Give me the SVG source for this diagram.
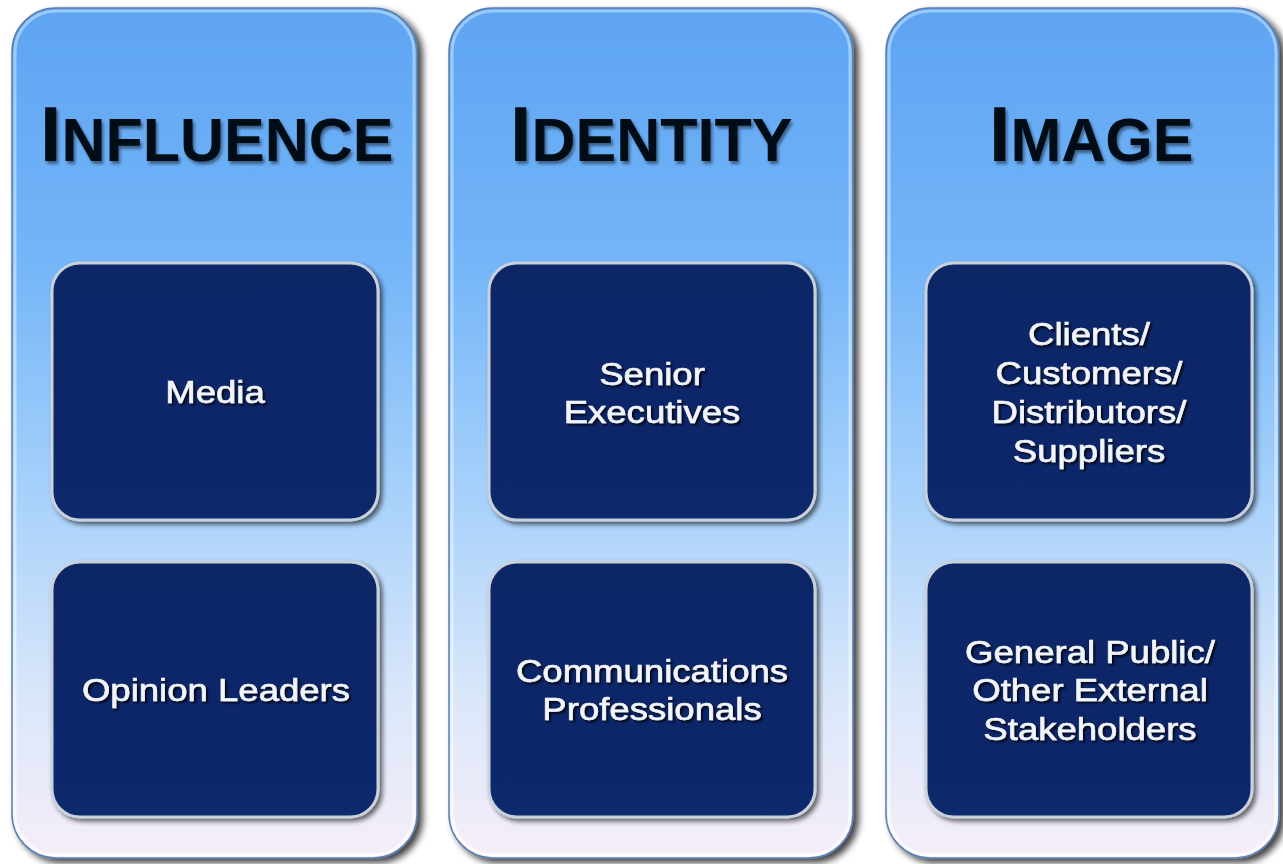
<svg xmlns="http://www.w3.org/2000/svg" width="1283" height="864" viewBox="0 0 1283 864">
<defs>
<linearGradient id="colg" x1="0" y1="0" x2="0" y2="1">
<stop offset="0" stop-color="#5da4f2"/>
<stop offset="0.3" stop-color="#74b5f8"/>
<stop offset="0.55" stop-color="#a2cffb"/>
<stop offset="0.8" stop-color="#d8e6fa"/>
<stop offset="1" stop-color="#f6eef8"/>
</linearGradient>
<linearGradient id="rim" x1="0" y1="0" x2="0" y2="1">
<stop offset="0" stop-color="#a9d2ff"/>
<stop offset="1" stop-color="#ffffff"/>
</linearGradient>
<linearGradient id="boxg" x1="0" y1="0" x2="0" y2="1">
<stop offset="0" stop-color="#0a2566"/>
<stop offset="1" stop-color="#0b296c"/>
</linearGradient>
<filter id="colsh" x="-10%" y="-5%" width="125%" height="112%">
<feGaussianBlur in="SourceAlpha" stdDeviation="3.5"/>
<feOffset dx="5" dy="4" result="b"/>
<feComponentTransfer><feFuncA type="linear" slope="0.75"/></feComponentTransfer>
<feMerge><feMergeNode/><feMergeNode in="SourceGraphic"/></feMerge>
</filter>
<filter id="boxsh" x="-10%" y="-10%" width="125%" height="125%">
<feGaussianBlur in="SourceAlpha" stdDeviation="2.5"/>
<feOffset dx="3" dy="3"/>
<feComponentTransfer><feFuncA type="linear" slope="0.6"/></feComponentTransfer>
<feMerge><feMergeNode/><feMergeNode in="SourceGraphic"/></feMerge>
</filter>
<filter id="tsh" x="-10%" y="-20%" width="125%" height="150%">
<feGaussianBlur in="SourceAlpha" stdDeviation="1.5"/>
<feOffset dx="2" dy="3"/>
<feComponentTransfer><feFuncA type="linear" slope="0.45"/></feComponentTransfer>
<feMerge><feMergeNode/><feMergeNode in="SourceGraphic"/></feMerge>
</filter>
<filter id="wsh" x="-10%" y="-20%" width="125%" height="150%">
<feGaussianBlur in="SourceAlpha" stdDeviation="1"/>
<feOffset dx="1.5" dy="1.5"/>
<feComponentTransfer><feFuncA type="linear" slope="0.8"/></feComponentTransfer>
<feMerge><feMergeNode/><feMergeNode in="SourceGraphic"/></feMerge>
</filter>
</defs>
<style>
.col{fill:url(#colg);stroke:#5a7fb0;stroke-width:1.5;filter:url(#colsh)}
.colrim{fill:none;stroke:url(#rim);stroke-width:3;opacity:0.8}
.box{fill:url(#boxg);stroke:#c9d1dd;stroke-width:3;filter:url(#boxsh)}
.title{font-family:"Liberation Sans",Arial,sans-serif;font-weight:bold;fill:#050a14;filter:url(#tsh)}
.big{font-size:77px}
.sc{font-size:61px}
.lbl{font-family:"Liberation Sans",Arial,sans-serif;font-size:31.5px;fill:#f2f5fa;stroke:#f2f5fa;stroke-width:0.6;text-anchor:middle;filter:url(#wsh)}
</style>
<rect width="1283" height="864" fill="#ffffff"/>

<g id="col-influence">
<rect class="col" x="12" y="8" width="405" height="850" rx="44"/>
<rect class="colrim" x="15" y="11" width="399" height="844" rx="41"/>
<text class="title" x="40" y="161"><tspan class="big">I</tspan><tspan class="sc">NFLUENCE</tspan></text>
</g>
<g id="col-identity">
<rect class="col" x="449" y="8" width="404" height="850" rx="44"/>
<rect class="colrim" x="452" y="11" width="398" height="844" rx="41"/>
<text class="title" x="510" y="161"><tspan class="big">I</tspan><tspan class="sc">DENTITY</tspan></text>
</g>
<g id="col-image">
<rect class="col" x="886" y="8" width="393" height="850" rx="44"/>
<rect class="colrim" x="889" y="11" width="387" height="844" rx="41"/>
<text class="title" x="989" y="161"><tspan class="big">I</tspan><tspan class="sc">MAGE</tspan></text>
</g>

<g id="node-media">
<rect class="box" x="52" y="263" width="326" height="257" rx="28"/>
<text class="lbl" transform="translate(215,403) scale(1.16,1)">Media</text>
</g>
<g id="node-opinion">
<rect class="box" x="52" y="562" width="326" height="255" rx="28"/>
<text class="lbl" transform="translate(216,701) scale(1.16,1)">Opinion Leaders</text>
</g>
<g id="node-senior">
<rect class="box" x="489" y="263" width="326" height="257" rx="28"/>
<text class="lbl" transform="translate(652,385) scale(1.16,1)">Senior</text>
<text class="lbl" transform="translate(652,423) scale(1.16,1)">Executives</text>
</g>
<g id="node-comms">
<rect class="box" x="489" y="562" width="326" height="255" rx="28"/>
<text class="lbl" transform="translate(652,682) scale(1.16,1)">Communications</text>
<text class="lbl" transform="translate(652,720) scale(1.16,1)">Professionals</text>
</g>
<g id="node-clients">
<rect class="box" x="926" y="263" width="326" height="257" rx="28"/>
<text class="lbl" transform="translate(1089,345) scale(1.16,1)">Clients/</text>
<text class="lbl" transform="translate(1089,384) scale(1.16,1)">Customers/</text>
<text class="lbl" transform="translate(1089,423) scale(1.16,1)">Distributors/</text>
<text class="lbl" transform="translate(1089,462) scale(1.16,1)">Suppliers</text>
</g>
<g id="node-public">
<rect class="box" x="926" y="562" width="326" height="255" rx="28"/>
<text class="lbl" transform="translate(1090,663) scale(1.16,1)">General Public/</text>
<text class="lbl" transform="translate(1090,701) scale(1.16,1)">Other External</text>
<text class="lbl" transform="translate(1090,740) scale(1.16,1)">Stakeholders</text>
</g>
<g id="connectors"/>
</svg>
